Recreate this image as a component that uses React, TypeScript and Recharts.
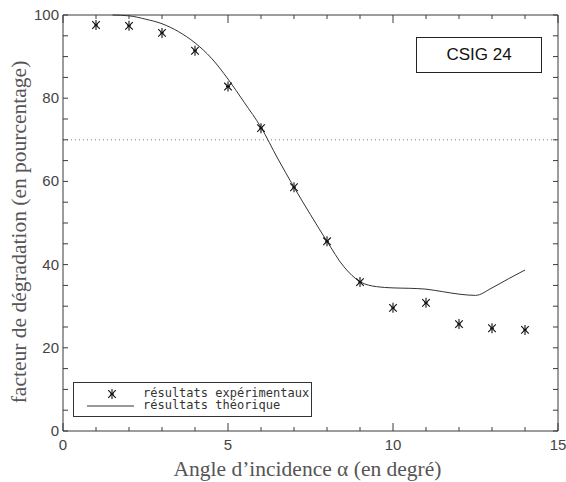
import React from "react";
import {
  ComposedChart,
  Line,
  Scatter,
  XAxis,
  YAxis,
  ReferenceLine,
} from "recharts";

// Experimental results (asterisks)
const expAngles = [1, 2, 3, 4, 5, 6, 7, 8, 9, 10, 11, 12, 13, 14];
const expValues = [97.6, 97.4, 95.7, 91.4, 82.8, 72.8, 58.6, 45.6, 35.8, 29.6, 30.8, 25.7, 24.7, 24.3];

// Theoretical results (solid curve)
const theoAngles = [1.5, 2, 2.5, 3, 3.5, 4, 4.5, 5, 5.5, 6, 6.5, 7, 7.5, 8, 8.5, 9, 9.5, 10, 10.5, 11, 11.5, 12, 12.5, 13, 13.5, 14];
const theoValues = [100, 99.8, 99.0, 97.9, 96.0, 93.3, 89.6, 84.6, 78.9, 73.0, 65.6, 58.6, 52.0, 45.6, 39.6, 35.9, 34.7, 34.4, 34.3, 34.1, 33.5, 32.9, 32.6, 34.4, 36.6, 38.7];

const xTicks = [0, 1, 2, 3, 4, 5, 6, 7, 8, 9, 10, 11, 12, 13, 14, 15];
const yTicks = [0, 5, 10, 15, 20, 25, 30, 35, 40, 45, 50, 55, 60, 65, 70, 75, 80, 85, 90, 95, 100];
const xDomain = [0, 15];
const yDomain = [0, 100];
const xMajor = 5;
const yMajor = 20;
const thresholdValue = 70;
const annotation = "CSIG 24";
const legendLabels = ["résultats expérimentaux", "résultats théorique"];
const xTitle = "Angle d’incidence α (en degré)";
const yTitle = "facteur de dégradation (en pourcentage)";

const expData = expAngles.map((x, i) => ({ x, y: expValues[i] }));
const theoData = theoAngles.map((x, i) => ({ x, y: theoValues[i] }));
// top frame edge and its inward ticks, placed through the chart scales
const topFrameData = xDomain.map((x) => ({ x, y: yDomain[1] }));
const topTickData = xTicks.map((x) => ({ x, y: yDomain[1], major: x % xMajor === 0 }));

// layout
const W = 566;
const H = 482;
const MARGIN = { top: 15, right: 8, left: 0, bottom: 3 };
const Y_AXIS_W = 63;
const X_AXIS_H = 48;
const PLOT_W = W - MARGIN.left - MARGIN.right - Y_AXIS_W;
const PLOT_H = H - MARGIN.top - MARGIN.bottom - X_AXIS_H;

const AXIS = "#3a3a3a";
const TICK_FONT = "'Liberation Sans', Arial, sans-serif";
const TITLE_FONT = "'Liberation Serif', 'Times New Roman', serif";

// bottom axis tick
const BottomTick = (props: any) => {
  const { x, y, payload } = props;
  const v = payload.value;
  const major = v % xMajor === 0;
  const len = major ? 8 : 4;
  return (
    <g>
      <line x1={x} y1={y} x2={x} y2={y - len} stroke={AXIS} strokeWidth={1} />
      {major && (
        <text x={x} y={y + 19} textAnchor="middle" fontSize={15} fontFamily={TICK_FONT} fill="#444">
          {v}
        </text>
      )}
    </g>
  );
};

// left axis tick + mirrored right tick + right frame edge
const LeftTick = (props: any) => {
  const { x, y, payload, index } = props;
  const v = payload.value;
  const major = v % yMajor === 0;
  const xRight = x + PLOT_W;
  return (
    <g>
      <line x1={x} y1={y} x2={x + 5} y2={y} stroke={AXIS} strokeWidth={1} />
      <line x1={xRight} y1={y} x2={xRight - 5} y2={y} stroke={AXIS} strokeWidth={1} />
      {index === 0 && <line x1={xRight} y1={y} x2={xRight} y2={y - PLOT_H} stroke={AXIS} strokeWidth={1} />}
      {major && (
        <text x={x - 4} y={y + 5} textAnchor="end" fontSize={15} fontFamily={TICK_FONT} fill="#444">
          {v}
        </text>
      )}
    </g>
  );
};

const TopTickMark = (props: any) => {
  const { cx, cy, payload } = props;
  if (cx == null || cy == null) return null;
  const len = payload && payload.major ? 8 : 4;
  return <line x1={cx} y1={cy} x2={cx} y2={cy + len} stroke={AXIS} strokeWidth={1} />;
};

const Asterisk = (props: any) => {
  const { cx, cy } = props;
  if (cx == null || cy == null) return null;
  const r = 5;
  const d = 3.8;
  return (
    <g stroke="#111" strokeWidth={1.1}>
      <line x1={cx} y1={cy - r} x2={cx} y2={cy + r} />
      <line x1={cx - d} y1={cy - d} x2={cx + d} y2={cy + d} />
      <line x1={cx - d} y1={cy + d} x2={cx + d} y2={cy - d} />
      <line x1={cx - 2} y1={cy} x2={cx + 2} y2={cy} />
    </g>
  );
};

const XTitle = (props: any) => {
  const { viewBox } = props;
  const cx = viewBox.x + viewBox.width / 2;
  return (
    <text x={cx - 3} y={viewBox.y + 45} textAnchor="middle" fontSize={21.5} fontFamily={TITLE_FONT} fill="#555">
      {xTitle}
    </text>
  );
};

const YTitle = (props: any) => {
  const { viewBox } = props;
  const cy = viewBox.y + viewBox.height / 2 + 9;
  const cx = 19;
  return (
    <text
      x={cx}
      y={cy}
      transform={`rotate(-90 ${cx} ${cy})`}
      textAnchor="middle"
      dominantBaseline="central"
      fontSize={21.5}
      fontFamily={TITLE_FONT}
      fill="#555"
    >
      {yTitle}
    </text>
  );
};

export default function App() {
  return (
    <div style={{ position: "fixed", left: 0, top: 0, width: W, height: H, background: "#fff", overflow: "hidden" }}>
      <ComposedChart width={W} height={H} margin={MARGIN}>
        <XAxis
          type="number"
          dataKey="x"
          domain={xDomain}
          ticks={xTicks}
          interval={0}
          tickSize={0}
          tickMargin={0}
          tickLine={false}
          tick={<BottomTick />}
          stroke={AXIS}
          height={X_AXIS_H}
          label={<XTitle />}
        />
        <YAxis
          type="number"
          domain={yDomain}
          ticks={yTicks}
          interval={0}
          tickSize={0}
          tickMargin={0}
          tickLine={false}
          tick={<LeftTick />}
          stroke={AXIS}
          width={Y_AXIS_W}
          label={<YTitle />}
        />
        <ReferenceLine
          y={thresholdValue}
          stroke="#777"
          strokeDasharray="1 3"
          strokeWidth={1}
        />
        <Line
          data={topFrameData}
          dataKey="y"
          type="linear"
          stroke={AXIS}
          strokeWidth={1}
          dot={false}
          activeDot={false}
          isAnimationActive={false}
          legendType="none"
        />
        <Scatter
          data={topTickData}
          dataKey="y"
          shape={<TopTickMark />}
          isAnimationActive={false}
          legendType="none"
        />
        <Line
          data={theoData}
          dataKey="y"
          type="monotone"
          stroke="#333"
          strokeWidth={1}
          dot={false}
          activeDot={false}
          isAnimationActive={false}
        />
        <Scatter
          data={expData}
          dataKey="y"
          shape={<Asterisk />}
          isAnimationActive={false}
        />
      </ComposedChart>

      {/* annotation box */}
      <div
        style={{
          position: "absolute",
          left: 416,
          top: 37,
          width: 126,
          height: 36,
          border: "1px solid #222",
          boxSizing: "border-box",
          display: "flex",
          alignItems: "center",
          justifyContent: "center",
          fontFamily: "'Liberation Sans', Arial, sans-serif",
          fontSize: 17,
          color: "#111",
          background: "#fff",
        }}
      >
        {annotation}
      </div>

      {/* legend */}
      <div
        style={{
          position: "absolute",
          left: 73,
          top: 382,
          width: 239,
          height: 35,
          border: "1px solid #333",
          boxSizing: "border-box",
          background: "#fff",
          fontFamily: "'DejaVu Sans Mono', monospace",
          fontSize: 12,
          color: "#333",
          lineHeight: "12px",
        }}
      >
        <div style={{ position: "absolute", left: 69, top: 4, whiteSpace: "nowrap" }}>{legendLabels[0]}</div>
        <div style={{ position: "absolute", left: 69, top: 16, whiteSpace: "nowrap" }}>{legendLabels[1]}</div>
        <svg style={{ position: "absolute", left: 0, top: 0 }} width={70} height={33}>
          <Asterisk cx={38} cy={11} />
          <line x1={13} y1={23} x2={60} y2={23} stroke="#333" strokeWidth={1} />
        </svg>
      </div>
    </div>
  );
}
